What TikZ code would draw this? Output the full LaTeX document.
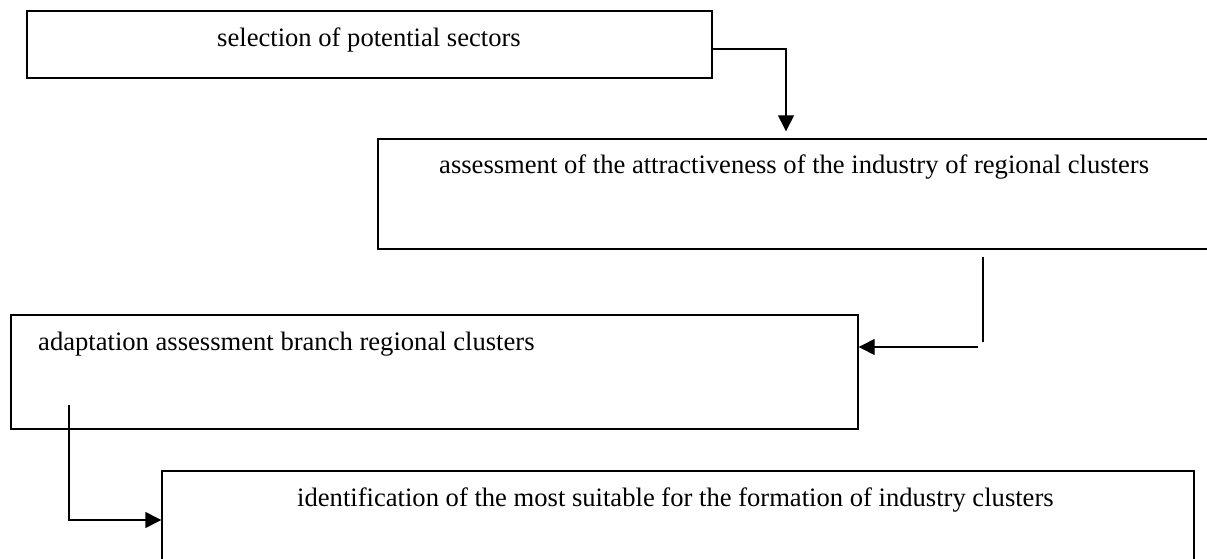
\documentclass[tikz,border=0pt]{standalone}
\usepackage{fontspec}
\setmainfont{Liberation Serif}
\usetikzlibrary{arrows.meta}
\begin{document}
\begin{tikzpicture}[x=1pt,y=-1pt,
  box/.style={draw,line width=1.4pt,inner sep=0pt,anchor=center},
  lbl/.style={anchor=base west,inner sep=0pt,font=\fontsize{26.6}{30}\selectfont},
  conn/.style={line width=1.4pt},
  arr/.style={conn,-{Triangle[length=16pt,width=16pt]}}]
\useasboundingbox (0,0) rectangle (1207,559);
\clip (0,0) rectangle (1207,559);
\node[box,minimum width=685pt,minimum height=67pt] (box1) at (369.5,44.5) {};
\node[box,minimum width=852pt,minimum height=110pt] (box2) at (804,194) {};
\node[box,minimum width=847pt,minimum height=114pt] (box3) at (434.5,372) {};
\node[box,minimum width=1032pt,minimum height=109pt] (box4) at (678,525.5) {};
\node[lbl] (t1) at (217,47) {selection of potential sectors};
\node[lbl] (t2) at (439,173) {assessment of the attractiveness of the industry of regional clusters};
\node[lbl] (t3) at (38,350) {adaptation assessment branch regional clusters};
\node[lbl] (t4) at (297,506) {identification of the most suitable for the formation of industry clusters};
% connector 1
\coordinate (c1) at (786,49);
\draw[arr,shorten >=7pt] (box1.east |- c1) -- (c1) -- (c1 |- box2.north);
% connector 2
\coordinate (c2a) at (983,257);
\coordinate (c2b) at (983,342);
\coordinate (c2c) at (978,347);
\draw[conn] (c2a) -- (c2b);
\draw[arr] (c2c) -- (c2c -| box3.east);
% connector 3
\coordinate (c3a) at (69,405);
\coordinate (c3b) at (69,520);
\draw[arr] (c3a) -- (c3b) -- (c3b -| box4.west);
\end{tikzpicture}
\end{document}
